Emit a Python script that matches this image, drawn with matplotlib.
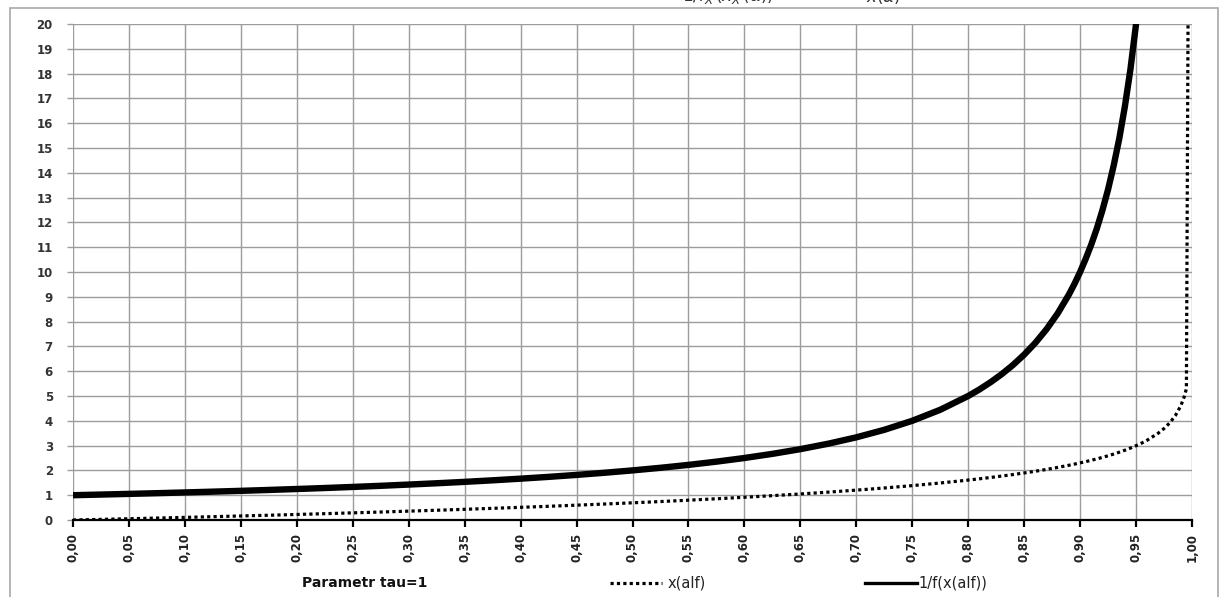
import numpy as np
import matplotlib
matplotlib.use('Agg')
import matplotlib.pyplot as plt
from matplotlib.lines import Line2D
from matplotlib.patches import Rectangle

# values (tau = 1)
alf = [0.000, 0.025, 0.050, 0.075, 0.100, 0.125, 0.150, 0.175, 0.200, 0.225,
       0.250, 0.275, 0.300, 0.325, 0.350, 0.375, 0.400, 0.425, 0.450, 0.475,
       0.500, 0.525, 0.550, 0.575, 0.600, 0.625, 0.650, 0.675, 0.700, 0.725,
       0.750, 0.775, 0.800, 0.810, 0.820, 0.830, 0.840, 0.850, 0.860, 0.870,
       0.880, 0.890, 0.895, 0.900, 0.905, 0.910, 0.915, 0.920, 0.925, 0.930,
       0.935, 0.940, 0.945, 0.950, 0.955, 0.960, 0.970, 0.975, 0.980, 0.985,
       0.990, 0.993, 0.995, 0.9965]
x_alf = [0.000, 0.025, 0.051, 0.078, 0.105, 0.134, 0.163, 0.192, 0.223, 0.255,
         0.288, 0.322, 0.357, 0.393, 0.431, 0.470, 0.511, 0.553, 0.598, 0.644,
         0.693, 0.744, 0.799, 0.856, 0.916, 0.981, 1.050, 1.124, 1.204, 1.291,
         1.386, 1.492, 1.609, 1.661, 1.715, 1.772, 1.833, 1.897, 1.966, 2.040,
         2.120, 2.207, 2.254, 2.303, 2.354, 2.408, 2.465, 2.526, 2.590, 2.659,
         2.733, 2.813, 2.900, 2.996, 3.101, 3.219, 3.507, 3.689, 3.912, 4.200,
         4.605, 4.962, 5.298, 20.5]
inv_f = [1.000, 1.026, 1.053, 1.081, 1.111, 1.143, 1.176, 1.212, 1.250, 1.290,
         1.333, 1.379, 1.429, 1.481, 1.538, 1.600, 1.667, 1.739, 1.818, 1.905,
         2.000, 2.105, 2.222, 2.353, 2.500, 2.667, 2.857, 3.077, 3.333, 3.636,
         4.000, 4.444, 5.000, 5.263, 5.556, 5.882, 6.250, 6.667, 7.143, 7.692,
         8.333, 9.091, 9.524, 10.00, 10.53, 11.11, 11.76, 12.50, 13.33, 14.29,
         15.38, 16.67, 18.18, 20.00, 22.22, np.nan, np.nan, np.nan, np.nan, np.nan,
         np.nan, np.nan, np.nan, np.nan]

xticks = [i * 0.05 for i in range(21)]
xlabels = ['%.2f' % t for t in xticks]
xlabels = [s.replace('.', ',') for s in xlabels]
yticks = list(range(21))

W, H = 1221, 597
fig = plt.figure(figsize=(W / 100, H / 100), dpi=100)
ax = fig.add_axes([73 / W, 1 - 520 / H, (1192 - 73) / W, (520 - 24) / H])

grid_col = '#9c9c9c'
ax.plot(alf, x_alf, color='black', lw=2.3, dashes=(1, 1), dash_capstyle='butt')
ax.plot(alf, inv_f, color='black', lw=4.6, solid_capstyle='butt', solid_joinstyle='round')

ax.set_xlim(0, 1)
ax.set_ylim(0, 20)
ax.set_xticks(xticks)
ax.set_xticklabels(xlabels, rotation=90, fontsize=8.5, fontweight='bold', color='#222222')
ax.set_yticks(yticks)
ax.set_yticklabels([str(v) for v in yticks], fontsize=8.5, fontweight='bold', color='#333333')
ax.grid(True, color=grid_col, lw=1.0)
ax.set_axisbelow(True)
for s in ['top', 'right', 'left']:
    ax.spines[s].set_visible(False)
ax.spines['bottom'].set_color('black')
ax.spines['bottom'].set_linewidth(1.6)
ax.spines['bottom'].set_zorder(5)
ax.tick_params(axis='x', direction='out', length=5, width=1.6, color='black', pad=4)
ax.tick_params(axis='y', direction='out', length=4.5, width=1.0, color=grid_col, pad=10)

# outer chart frame (cut off at the bottom)
fig.add_artist(Rectangle((10 / W, -0.05), (1218 - 10) / W, 1.05 - 8 / H,
                         transform=fig.transFigure, fill=False, ec='#a8a8a8', lw=1.2))

# title, mostly outside the picture like in the reference
fig.text(728 / W, 1 - 1.5 / H, r'$1/f_X\,(x_X\,(\alpha))$', ha='center', va='baseline',
         fontsize=12, family='serif', color='#333333')
fig.text(883 / W, 1 - 1.5 / H, r'$x(\alpha)$', ha='center', va='baseline',
         fontsize=12, family='serif', color='#333333')

# legend row
ly = 1 - 583 / H
fig.text(302 / W, ly, 'Parametr tau=1', fontsize=10, fontweight='bold', va='center', color='#111111')
fig.add_artist(Line2D([610 / W, 662 / W], [ly, ly], color='black', lw=2.3,
                      dashes=(1, 1), dash_capstyle='butt', transform=fig.transFigure))
fig.text(668 / W, ly, 'x(alf)', fontsize=10.5, va='center', color='#222222')
fig.add_artist(Line2D([865 / W, 917 / W], [ly, ly], color='black', lw=2.4,
                      transform=fig.transFigure))
fig.text(918 / W, ly, '1/f(x(alf))', fontsize=10.5, va='center', color='#222222')

fig.savefig('out.png', dpi=100)
